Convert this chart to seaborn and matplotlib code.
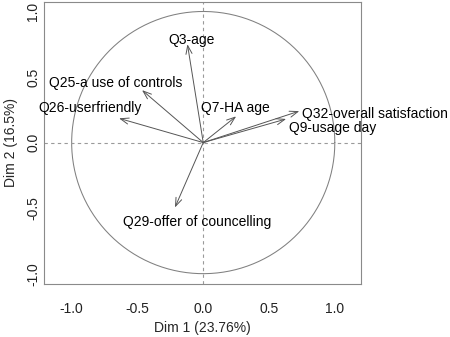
import numpy as np
import pandas as pd
import matplotlib
matplotlib.use("Agg")
import matplotlib.pyplot as plt
import seaborn as sns

# Variable coordinates on the first two principal dimensions
variables = ["Q3-age", "Q25-a use of controls", "Q26-userfriendly", "Q7-HA age",
             "Q32-overall satisfaction", "Q9-usage day", "Q29-offer of councelling"]
dim1 = [-0.12, -0.465, -0.64, 0.25, 0.73, 0.63, -0.215]
dim2 = [0.75, 0.40, 0.185, 0.20, 0.24, 0.18, -0.495]

# Label anchor positions (label centres, chosen to avoid overlaps)
label_x = [-0.085, -0.664, -0.861, 0.243, 1.306, 0.983, -0.047]
label_y = [0.78, 0.454, 0.261, 0.26, 0.215, 0.108, -0.605]

xticks = [-1.0, -0.5, 0.0, 0.5, 1.0]
yticks = [-1.0, -0.5, 0.0, 0.5, 1.0]
xlabel = "Dim 1 (23.76%)"
ylabel = "Dim 2 (16.5%)"

coords = pd.DataFrame({"variable": variables, "dim1": dim1, "dim2": dim2})

sns.set_style("white")
plt.rcParams["font.family"] = ["Liberation Sans", "DejaVu Sans"]
plt.rcParams["font.size"] = 10

fig = plt.figure(figsize=(4.5, 3.37), dpi=100)
ax = fig.add_axes([0.0984, 0.1564, 0.7047, 0.8391])

grey = "#8a8a8a"

# Correlation circle
theta = np.linspace(0, 2 * np.pi, 400)
circle = pd.DataFrame({"x": np.cos(theta), "y": np.sin(theta)})
sns.lineplot(data=circle, x="x", y="y", sort=False, estimator=None,
             color="#808080", linewidth=0.75, ax=ax)

# Dashed reference lines through the origin
ax.axhline(0, color="#9a9a9a", linestyle=(0, (3, 3)), linewidth=0.8)
ax.axvline(0, color="#9a9a9a", linestyle=(0, (3, 3)), linewidth=0.8)

# Variable arrows from the origin
for _, row in coords.iterrows():
    ax.annotate("", xy=(row.dim1, row.dim2), xytext=(0, 0),
                arrowprops=dict(arrowstyle="->,head_length=0.6,head_width=0.22",
                                color="#555555", linewidth=0.7,
                                shrinkA=0, shrinkB=0, mutation_scale=10))

for name, lx, ly in zip(variables, label_x, label_y):
    ax.text(lx, ly, name, ha="center", va="center", fontsize=10,
            color="black", clip_on=False)

ax.set_xlim(-1.208, 1.202)
ax.set_ylim(-1.081, 1.076)
ax.set_xticks(xticks)
ax.set_yticks(yticks)
ax.set_xticklabels([f"{t:.1f}" for t in xticks])
ax.set_yticklabels([f"{t:.1f}" for t in yticks], rotation=90, va="center")
ax.set_xlabel(xlabel, fontsize=10)
ax.set_ylabel(ylabel, fontsize=10)
ax.xaxis.set_label_coords(0.5, -0.13)
ax.yaxis.set_label_coords(-0.0835, 0.5)

for spine in ax.spines.values():
    spine.set_visible(True)
    spine.set_color(grey)
    spine.set_linewidth(0.8)

ax.tick_params(axis="both", which="major", direction="out", length=5,
               width=0.8, color=grey, labelsize=10, labelcolor="#222222")
ax.tick_params(axis="x", pad=8)
ax.tick_params(axis="y", pad=-2)
if ax.get_legend() is not None:
    ax.get_legend().remove()

fig.savefig("out.png", dpi=100, facecolor="white")
